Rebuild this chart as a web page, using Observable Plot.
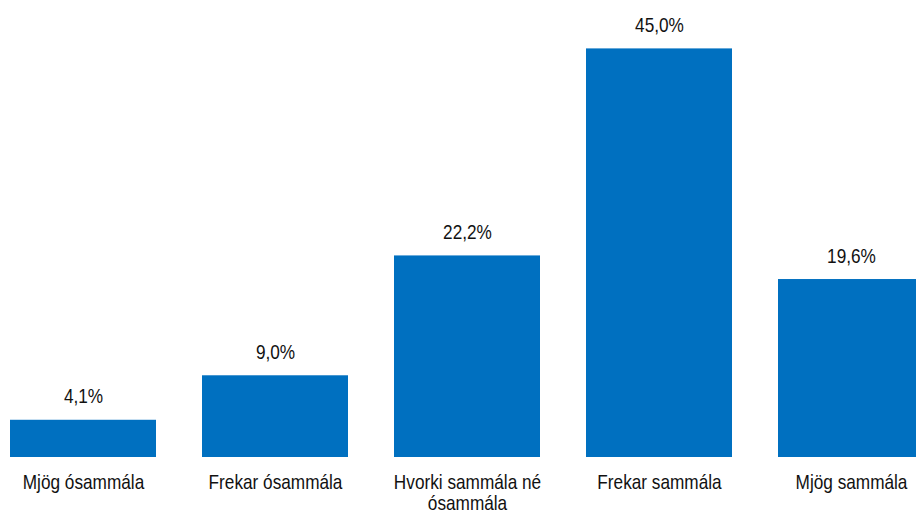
<!DOCTYPE html>
<html>
<head>
<meta charset="utf-8">
<script src="https://cdn.jsdelivr.net/npm/d3@7"></script>
<script src="https://cdn.jsdelivr.net/npm/@observablehq/plot@0.6"></script>
<style>
  html, body { margin: 0; padding: 0; background: #fff; }
  #chart svg { display: block; }
</style>
</head>
<body>
<div id="chart"></div>
<script>
const categories = ["Mjög ósammála", "Frekar ósammála", "Hvorki sammála né ósammála", "Frekar sammála", "Mjög sammála"];
const tickLabels = ["Mjög ósammála", "Frekar ósammála", "Hvorki sammála né\nósammála", "Frekar sammála", "Mjög sammála"];
const values = [4.1, 9.0, 22.2, 45.0, 19.6];

const data = categories.map((c, i) => ({cat: c, label: tickLabels[i], value: values[i]}));
const fmt = v => v.toFixed(1).replace(".", ",") + "%";

const chart = Plot.plot({
  width: 916,
  height: 514,
  marginTop: 3,
  marginBottom: 57,
  marginLeft: 0,
  marginRight: 0,
  style: {fontFamily: "'Liberation Sans', Arial, sans-serif", background: "#fff"},
  x: {domain: categories, range: [-13, 947], paddingInner: 0.24, paddingOuter: 0.12, axis: null},
  y: {domain: [0, 50], axis: null},
  marks: [
    Plot.barY(data, {x: "cat", y: "value", fill: "#0070C0"}),
    Plot.text(data, {x: "cat", y: "value", text: d => fmt(d.value), lineAnchor: "bottom", dy: -17, fontSize: 21, fill: "#111"}),
    Plot.text(data, {x: "cat", text: "label", frameAnchor: "bottom", lineAnchor: "top", dy: 17, lineHeight: 1.0, fontSize: 21, fill: "#111"})
  ]
});
// condense text horizontally to mimic the narrow typeface of the original
d3.select(chart).selectAll("text").each(function() {
  const t = this.getAttribute("transform") || "";
  this.setAttribute("transform", t + " scale(0.82,1)");
});
document.getElementById("chart").appendChild(chart);
</script>
</body>
</html>
